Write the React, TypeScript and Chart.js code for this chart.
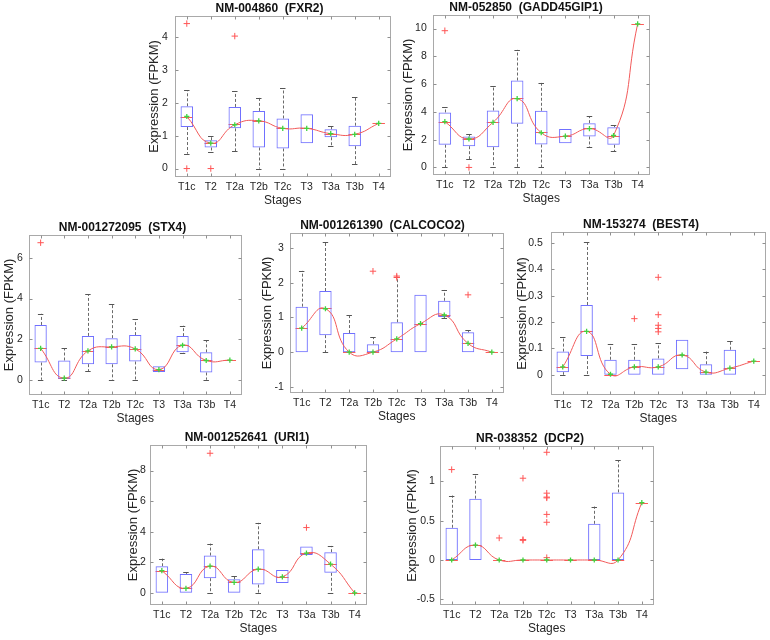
import React, { useEffect, useRef } from "react";
import { Chart, registerables } from "chart.js";
Chart.register(...registerables);

const STAGES = ["T1c", "T2", "T2a", "T2b", "T2c", "T3", "T3a", "T3b", "T4"];

// box rows: [lowerWhisker, q1, median, q3, upperWhisker] per stage
const FXR2_BOX = [
  [0.45, 1.26, 1.58, 1.89, 2.38],
  [0.5, 0.64, 0.78, 0.86, 0.98],
  [0.52, 1.22, 1.34, 1.87, 2.35],
  [0.0, 0.64, 1.45, 1.75, 2.15],
  [0.0, 0.61, 1.22, 1.52, 2.43],
  [0.77, 0.77, 1.22, 1.65, 1.65],
  [0.68, 0.95, 1.06, 1.19, 1.3],
  [0.14, 0.68, 1.04, 1.3, 2.16],
  [1.37, 1.37, 1.37, 1.37, 1.37],
];
const FXR2_MEAN = [1.58, 0.77, 1.33, 1.45, 1.22, 1.22, 1.06, 1.04, 1.37];
const FXR2_OUT = [[0, 4.4], [0, 0], [1, 0], [2, 4.02]];
const FXR2_Y_TICKS = [0, 1, 2, 3, 4];
const FXR2_Y_RANGE = [-0.25, 4.63];

const GADD_BOX = [
  [0, 1.64, 3.3, 3.96, 4.32],
  [0.6, 1.53, 2.02, 2.23, 2.4],
  [0, 1.46, 3.25, 4.1, 5.85],
  [0, 3.14, 4.99, 6.26, 8.47],
  [0, 1.65, 2.54, 4.08, 6.09],
  [1.75, 1.75, 2.25, 2.76, 2.76],
  [1.46, 2.23, 2.85, 3.19, 3.69],
  [1.15, 1.63, 2.25, 2.9, 3.05],
  [10.34, 10.34, 10.34, 10.34, 10.34],
];
const GADD_MEAN = [3.3, 2.05, 3.25, 4.95, 2.5, 2.25, 2.8, 2.3, 10.34];
const GADD_OUT = [[0, 9.85], [1, 0]];
const GADD_Y_TICKS = [0, 2, 4, 6, 8, 10];
const GADD_Y_RANGE = [-0.53, 10.98];

const STX4_BOX = [
  [0, 0.85, 1.55, 2.7, 3.25],
  [0, 0.05, 0.07, 0.95, 1.55],
  [0.41, 0.77, 1.42, 2.16, 4.21],
  [0, 0.76, 1.62, 2.05, 3.72],
  [0, 0.9, 1.52, 2.2, 2.97],
  [0.38, 0.38, 0.5, 0.66, 0.66],
  [1.34, 1.35, 1.7, 2.15, 2.66],
  [0, 0.36, 0.95, 1.35, 1.95],
  [0.97, 0.97, 0.97, 0.97, 0.97],
];
const STX4_MEAN = [1.55, 0.08, 1.42, 1.62, 1.52, 0.5, 1.7, 0.95, 0.97];
const STX4_OUT = [[0, 6.75]];
const STX4_Y_TICKS = [0, 2, 4, 6];
const STX4_Y_RANGE = [-0.74, 7.13];

const CALC_BOX = [
  [0, 0, 0.69, 1.31, 2.34],
  [0, 0.49, 1.27, 1.76, 3.17],
  [0, 0, 0, 0.55, 1.08],
  [0, 0, 0, 0.23, 0.43],
  [0, 0, 0.38, 0.86, 2.16],
  [0, 0, 0.82, 1.65, 1.65],
  [0.97, 1.01, 1.07, 1.48, 1.79],
  [0, 0, 0.25, 0.57, 0.63],
  [0, 0, 0, 0, 0],
];
const CALC_MEAN = [0.69, 1.25, 0, 0, 0.38, 0.82, 1.07, 0.25, 0];
const CALC_OUT = [[3, 2.33], [4, 2.19], [4, 2.15], [7, 1.65]];
const CALC_Y_TICKS = [-1, 0, 1, 2, 3];
const CALC_Y_RANGE = [-1.17, 3.43];

const BEST4_BOX = [
  [0, 0.01, 0.03, 0.088, 0.145],
  [0, 0.071, 0.165, 0.265, 0.503],
  [0, 0, 0, 0.057, 0.117],
  [0, 0, 0.03, 0.057, 0.115],
  [0, 0, 0.03, 0.062, 0.12],
  [0.021, 0.021, 0.075, 0.133, 0.133],
  [0, 0, 0.01, 0.04, 0.088],
  [0, 0, 0.025, 0.095, 0.13],
  [0.052, 0.052, 0.052, 0.052, 0.052],
];
const BEST4_MEAN = [0.03, 0.165, 0.002, 0.03, 0.03, 0.075, 0.01, 0.025, 0.052];
const BEST4_OUT = [[3, 0.213], [4, 0.37], [4, 0.228], [4, 0.188], [4, 0.176], [4, 0.163]];
const BEST4_Y_TICKS = [0, 0.1, 0.2, 0.3, 0.4, 0.5];
const BEST4_Y_RANGE = [-0.076, 0.542];

const URI1_BOX = [
  [0, 0, 1.45, 1.74, 2.24],
  [0, 0, 0.3, 1.24, 1.35],
  [0, 0.96, 1.75, 2.44, 3.22],
  [0, 0, 0.68, 0.89, 1.13],
  [0, 0.54, 1.55, 2.85, 4.58],
  [0.65, 0.65, 1.05, 1.5, 1.5],
  [2.48, 2.48, 2.6, 3.03, 3.03],
  [0, 1.31, 1.88, 2.66, 3.07],
  [0, 0, 0, 0, 0],
];
const URI1_MEAN = [1.45, 0.3, 1.75, 0.68, 1.55, 1.05, 2.6, 1.88, 0];
const URI1_OUT = [[2, 9.13], [6, 4.27]];
const URI1_Y_TICKS = [0, 2, 4, 6, 8];
const URI1_Y_RANGE = [-0.78, 9.67];

const DCP2_BOX = [
  [0, 0, 0, 0.41, 0.82],
  [0, 0, 0.19, 0.78, 1.09],
  [0, 0, 0, 0, 0],
  [0, 0, 0, 0, 0],
  [0, 0, 0, 0, 0],
  [0, 0, 0, 0, 0],
  [0, 0, 0, 0.46, 0.68],
  [0, 0, 0, 0.86, 1.27],
  [0.73, 0.73, 0.73, 0.73, 0.73],
];
const DCP2_MEAN = [0, 0.19, 0, 0, 0, 0, 0, 0, 0.73];
const DCP2_OUT = [[0, 1.15], [2, 0.28], [3, 1.04], [3, 0.26], [3, 0.25], [4, 1.37], [4, 0.85], [4, 0.8], [4, 0.79], [4, 0.58], [4, 0.48], [4, 0.03]];
const DCP2_Y_TICKS = [-0.5, 0, 0.5, 1];
const DCP2_Y_RANGE = [-0.57, 1.45];

const PANELS = [
  { title: "NM-004860  (FXR2)", box: FXR2_BOX, mean: FXR2_MEAN, out: FXR2_OUT, ticks: FXR2_Y_TICKS, range: FXR2_Y_RANGE },
  { title: "NM-052850  (GADD45GIP1)", box: GADD_BOX, mean: GADD_MEAN, out: GADD_OUT, ticks: GADD_Y_TICKS, range: GADD_Y_RANGE },
  { title: "NM-001272095  (STX4)", box: STX4_BOX, mean: STX4_MEAN, out: STX4_OUT, ticks: STX4_Y_TICKS, range: STX4_Y_RANGE },
  { title: "NM-001261390  (CALCOCO2)", box: CALC_BOX, mean: CALC_MEAN, out: CALC_OUT, ticks: CALC_Y_TICKS, range: CALC_Y_RANGE },
  { title: "NM-153274  (BEST4)", box: BEST4_BOX, mean: BEST4_MEAN, out: BEST4_OUT, ticks: BEST4_Y_TICKS, range: BEST4_Y_RANGE },
  { title: "NM-001252641  (URI1)", box: URI1_BOX, mean: URI1_MEAN, out: URI1_OUT, ticks: URI1_Y_TICKS, range: URI1_Y_RANGE },
  { title: "NR-038352  (DCP2)", box: DCP2_BOX, mean: DCP2_MEAN, out: DCP2_OUT, ticks: DCP2_Y_TICKS, range: DCP2_Y_RANGE },
];

// plot-area placement on the page: left, top, right, bottom, ylabel distance, tick padding
const LAYOUT = [
  { l: 175, t: 16, r: 392, b: 177, d: 20, tp: 7 },
  { l: 433, t: 15, r: 651, b: 175, d: 24, tp: 6 },
  { l: 29, t: 235, r: 243, b: 395, d: 19, tp: 6 },
  { l: 290, t: 233, r: 505, b: 393, d: 22, tp: 6 },
  { l: 551, t: 232, r: 767, b: 395, d: 28, tp: 8 },
  { l: 150, t: 445, r: 368, b: 605, d: 16, tp: 4 },
  { l: 440, t: 446, r: 655, b: 605, d: 27, tp: 5 },
];

const FONT = "'Liberation Sans', Arial, Helvetica, sans-serif";
const TOP_H = 18;
const X_H = 31.2;
const PAD_R = 4;
const PAD_B = 2;
const YT_FONT = 13;

const boxPlugin = {
  id: "boxWhiskers",
  beforeDatasetsDraw(chart: any, _args: any, opts: any) {
    const rows: number[][] = opts.rows;
    const meta = chart.getDatasetMeta(3);
    const ys = chart.scales.y;
    const ctx = chart.ctx;
    ctx.save();
    meta.data.forEach((el: any, i: number) => {
      const { x, width } = el.getProps(["x", "width"], true);
      const [lo, q1, med, q3, hi] = rows[i];
      const cap = width * 0.22;
      const line = (x1: number, y1: number, x2: number, y2: number) => {
        ctx.beginPath();
        ctx.moveTo(x1, y1);
        ctx.lineTo(x2, y2);
        ctx.stroke();
      };
      ctx.lineWidth = 1;
      ctx.strokeStyle = "#6a6a6a";
      ctx.setLineDash([3, 2]);
      const xc = Math.round(x) + 0.5;
      if (hi > q3) line(xc, ys.getPixelForValue(q3), xc, ys.getPixelForValue(hi));
      if (lo < q1) line(xc, ys.getPixelForValue(q1), xc, ys.getPixelForValue(lo));
      ctx.setLineDash([]);
      ctx.strokeStyle = "#555";
      if (hi > q3) {
        const y = Math.round(ys.getPixelForValue(hi)) + 0.5;
        line(x - cap, y, x + cap, y);
      }
      if (lo < q1) {
        const y = Math.round(ys.getPixelForValue(lo)) + 0.5;
        line(x - cap, y, x + cap, y);
      }
      ctx.strokeStyle = "#ff5a5a";
      const ym = Math.round(ys.getPixelForValue(med)) + 0.5;
      line(x - width / 2, ym, x + width / 2, ym);
    });
    ctx.restore();
  },
};

const framePlugin = {
  id: "matlabFrame",
  afterDatasetsDraw(chart: any) {
    const { left, right, top, bottom } = chart.chartArea;
    const ctx = chart.ctx;
    const xs = chart.scales.x;
    const ys = chart.scales.y;
    ctx.save();
    ctx.strokeStyle = "#a9a9a9";
    ctx.lineWidth = 1;
    const L = Math.round(left) + 0.5;
    const R = Math.round(right) - 0.5;
    const T = Math.round(top) + 0.5;
    const B = Math.round(bottom) - 0.5;
    ctx.strokeRect(L, T, R - L, B - T);
    ctx.strokeStyle = "#8f8f8f";
    const tl = 3;
    ys.ticks.forEach((t: any) => {
      const y = Math.round(ys.getPixelForValue(t.value)) + 0.5;
      ctx.beginPath();
      ctx.moveTo(L, y);
      ctx.lineTo(L + tl, y);
      ctx.moveTo(R, y);
      ctx.lineTo(R - tl, y);
      ctx.stroke();
    });
    STAGES.forEach((_s, i) => {
      const x = Math.round(xs.getPixelForValue(i)) + 0.5;
      ctx.beginPath();
      ctx.moveTo(x, B);
      ctx.lineTo(x, B - tl);
      ctx.moveTo(x, T);
      ctx.lineTo(x, T + tl);
      ctx.stroke();
    });
    ctx.restore();
  },
};

function geometry(i: number) {
  const L = LAYOUT[i];
  const w = L.d + (YT_FONT * 1.2) / 2;
  return {
    left: L.l - w,
    top: L.t - TOP_H,
    width: w + (L.r - L.l) + PAD_R,
    height: TOP_H + (L.b - L.t) + X_H + PAD_B,
    yw: w,
  };
}

function makeChart(canvas: HTMLCanvasElement, i: number) {
  const p = PANELS[i];
  const L = LAYOUT[i];
  const g = geometry(i);
  const outliers = p.out.map(([c, v]) => ({ x: STAGES[c], y: v }));
  return new Chart(canvas, {
    type: "bar",
    data: {
      labels: STAGES,
      datasets: [
        {
          type: "line",
          label: "mean",
          data: p.mean,
          showLine: false,
          pointStyle: "cross",
          pointRadius: 2.6,
          pointBorderColor: "#3fd43f",
          pointBorderWidth: 1.3,
          pointBackgroundColor: "#3fd43f",
        } as any,
        {
          type: "line",
          label: "trend",
          data: p.mean,
          borderColor: "#f25a5a",
          borderWidth: 1,
          pointRadius: 0,
          tension: 0.5,
          fill: false,
        } as any,
        {
          type: "line",
          label: "outliers",
          data: outliers,
          showLine: false,
          pointStyle: "cross",
          pointRadius: 3.2,
          pointBorderColor: "#ff5555",
          pointBorderWidth: 1,
        } as any,
        {
          type: "bar",
          label: "box",
          data: p.box.map((r) => [r[1], r[3]]),
          backgroundColor: "rgba(0,0,0,0)",
          borderColor: "#7070ff",
          borderWidth: 1,
          borderSkipped: false,
          barPercentage: 0.52,
          categoryPercentage: 1,
        } as any,
      ],
    },
    options: {
      responsive: false,
      animation: false,
      events: [],
      layout: { padding: { top: TOP_H - 14.4, left: 0, right: PAD_R, bottom: PAD_B } },
      plugins: {
        legend: { display: false },
        tooltip: { enabled: false },
        title: {
          display: true,
          text: p.title,
          color: "#111",
          font: { family: FONT, size: 12, weight: "bold" },
          padding: 0,
        },
        boxWhiskers: { rows: p.box },
      } as any,
      scales: {
        x: {
          type: "category",
          offset: true,
          grid: { display: false, drawTicks: false },
          border: { display: false },
          ticks: { color: "#262626", font: { family: FONT, size: 10.5 }, padding: 4, maxRotation: 0, autoSkip: false },
          title: { display: true, text: "Stages", color: "#262626", font: { family: FONT, size: 12 }, padding: 0 },
          afterFit: (s: any) => {
            s.height = X_H;
          },
        },
        y: {
          type: "linear",
          min: p.range[0],
          max: p.range[1],
          grid: { display: false, drawTicks: false },
          border: { display: false },
          afterBuildTicks: (s: any) => {
            s.ticks = p.ticks.map((v) => ({ value: v }));
          },
          ticks: {
            color: "#262626",
            font: { family: FONT, size: 10.5 },
            padding: L.tp,
            callback: (v: any) => String(Math.round(Number(v) * 1000) / 1000),
          },
          title: { display: true, text: "Expression (FPKM)", color: "#262626", font: { family: FONT, size: YT_FONT }, padding: 0 },
          afterFit: (s: any) => {
            s.width = g.yw;
          },
        },
      },
    } as any,
    plugins: [boxPlugin, framePlugin],
  });
}

export default function App() {
  const refs = useRef<(HTMLCanvasElement | null)[]>([]);
  useEffect(() => {
    const charts = refs.current.map((c, i) => (c ? makeChart(c, i) : null));
    return () => {
      charts.forEach((ch) => ch && ch.destroy());
    };
  }, []);
  return (
    <div style={{ position: "absolute", left: 0, top: 0, width: 770, height: 640, background: "#fff", overflow: "hidden" }}>
      {PANELS.map((_p, i) => {
        const g = geometry(i);
        return (
          <canvas
            key={i}
            ref={(el) => {
              refs.current[i] = el;
            }}
            width={Math.round(g.width)}
            height={Math.round(g.height)}
            style={{ position: "absolute", left: Math.round(g.left), top: Math.round(g.top), width: Math.round(g.width), height: Math.round(g.height) }}
          />
        );
      })}
    </div>
  );
}
